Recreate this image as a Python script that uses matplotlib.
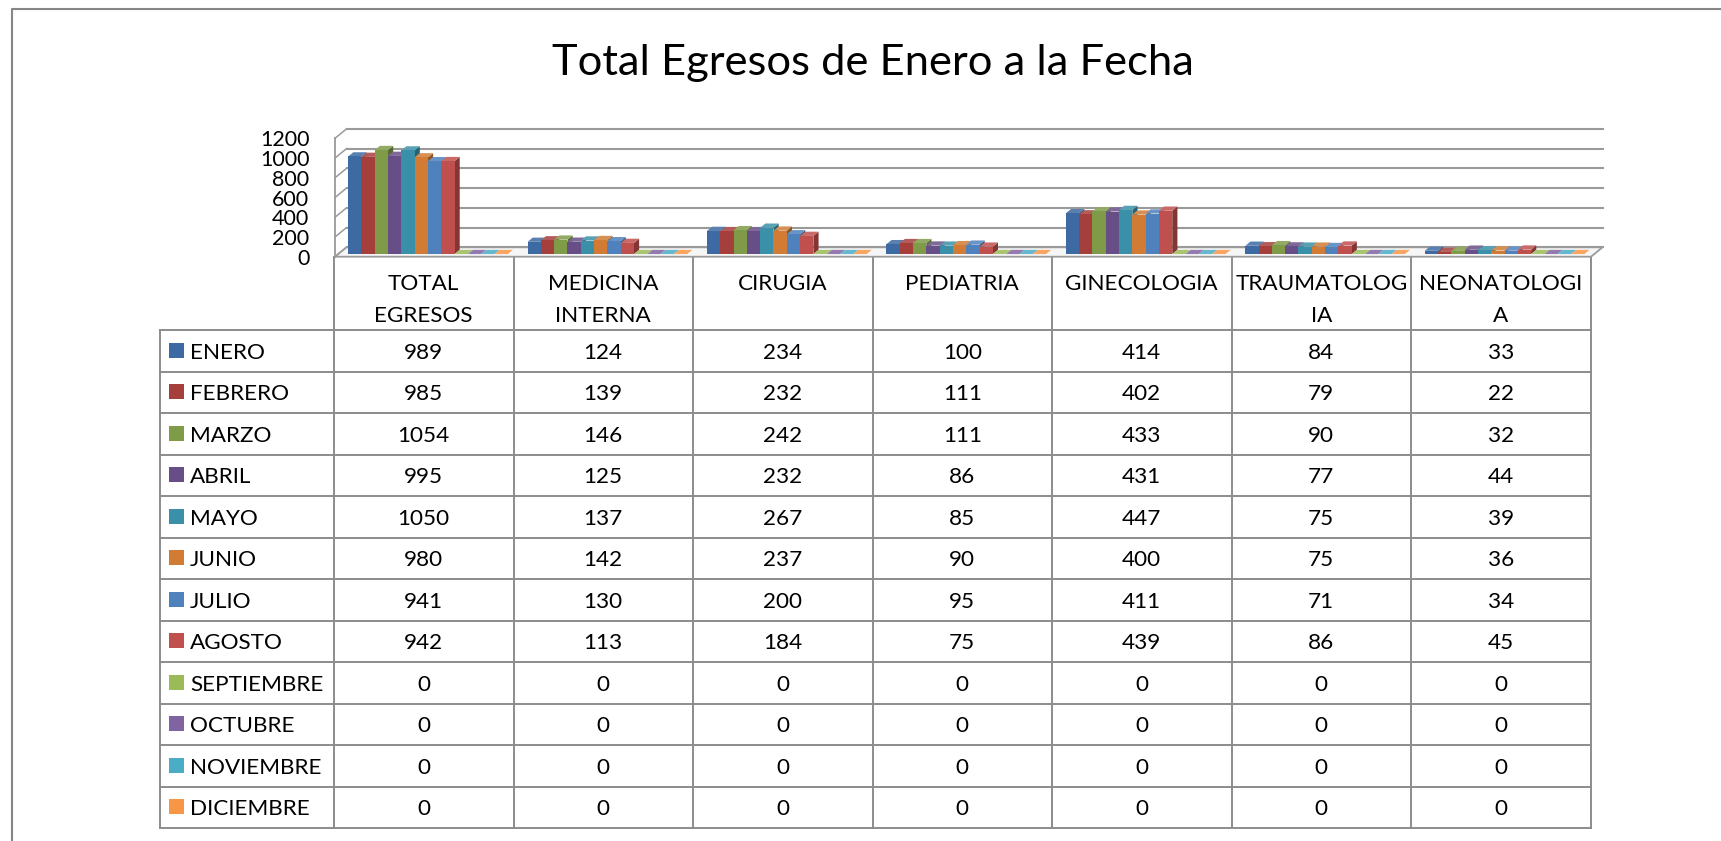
import matplotlib
matplotlib.use('Agg')
import numpy as np
import matplotlib.pyplot as plt
from matplotlib.patches import Polygon, Rectangle
from matplotlib.colors import to_rgb

plt.rcParams['font.family'] = ['Lato', 'DejaVu Sans']

TITLE = 'Total Egresos de Enero a la Fecha'
categories = ['TOTAL\nEGRESOS', 'MEDICINA\nINTERNA', 'CIRUGIA', 'PEDIATRIA',
              'GINECOLOGIA', 'TRAUMATOLOG\nIA', 'NEONATOLOGI\nA']
months = ['ENERO', 'FEBRERO', 'MARZO', 'ABRIL', 'MAYO', 'JUNIO', 'JULIO',
          'AGOSTO', 'SEPTIEMBRE', 'OCTUBRE', 'NOVIEMBRE', 'DICIEMBRE']

enero = [989, 124, 234, 100, 414, 84, 33]
febrero = [985, 139, 232, 111, 402, 79, 22]
marzo = [1054, 146, 242, 111, 433, 90, 32]
abril = [995, 125, 232, 86, 431, 77, 44]
mayo = [1050, 137, 267, 85, 447, 75, 39]
junio = [980, 142, 237, 90, 400, 75, 36]
julio = [941, 130, 200, 95, 411, 71, 34]
agosto = [942, 113, 184, 75, 439, 86, 45]
septiembre = [0, 0, 0, 0, 0, 0, 0]
octubre = [0, 0, 0, 0, 0, 0, 0]
noviembre = [0, 0, 0, 0, 0, 0, 0]
diciembre = [0, 0, 0, 0, 0, 0, 0]
series = [enero, febrero, marzo, abril, mayo, junio, julio, agosto,
          septiembre, octubre, noviembre, diciembre]

yticks = [0, 200, 400, 600, 800, 1000, 1200]

colors = ['#3D6AA2', '#A53F3C', '#7F9B47', '#674E87', '#3A90A8', '#D17B35',
          '#4F81BD', '#C0504D', '#9BBB59', '#8064A2', '#4BACC6', '#F79646']

W, H = 1721, 841
fig = plt.figure(figsize=(W / 100, H / 100), dpi=100)

# background canvas in pixel coords (frame, title, table)
ax0 = fig.add_axes([0, 0, 1, 1])
ax0.set_xlim(0, W)
ax0.set_ylim(H, 0)
ax0.axis('off')

ax0.plot([12, 12, W], [H, 8.5, 8.5], color='#868686', lw=1.5, solid_capstyle='butt')
ax0.text(873, 75, TITLE, fontsize=31.3, ha='center', va='baseline')

# 3d-ish bar chart, front plane of the floor
X0, X1 = 335, 1591
YF0, YF1 = 256.7, 138.3
ax = fig.add_axes([X0 / W, 1 - YF0 / H, (X1 - X0) / W, (YF0 - YF1) / H])
ax.patch.set_visible(False)
ax.set_xlim(-0.5, 6.5)
ax.set_ylim(0, 1200)
for s in ax.spines.values():
    s.set_visible(False)
ax.set_xticks([])
ax.set_yticks(yticks)
ax.tick_params(axis='y', length=0, pad=18.5, labelsize=15.5)

px_x = 7 / (X1 - X0)
px_y = 1200 / (YF0 - YF1)
DX, DY = 11.5 * px_x, 9.4 * px_y

grid_c = '#9a9a9a'
floor = Polygon([(-0.5, 0), (6.5, 0), (6.5 + DX, DY), (-0.5 + DX, DY)],
                closed=True, facecolor='#f6f6f6', edgecolor=grid_c, lw=1.3,
                clip_on=False, zorder=1)
ax.add_patch(floor)
for v in yticks:
    ax.plot([-0.5 + DX, 6.5 + DX], [v + DY, v + DY], color=grid_c, lw=1.5,
            clip_on=False, zorder=0)
    ax.plot([-0.5, -0.5 + DX], [v, v + DY], color=grid_c, lw=1.1,
            clip_on=False, zorder=0)
ax.plot([-0.5, -0.5], [0, 1200], color=grid_c, lw=1.3, clip_on=False, zorder=0)

n = len(series)
w = 13.3 * px_x
ox, oy = 0.28 * DX, 0.28 * DY
ddx, ddy = 0.45 * DX, 0.45 * DY
cx = np.arange(len(categories))

for j, (vals, col) in enumerate(zip(series, colors)):
    rgb = np.array(to_rgb(col))
    top_c = rgb + (1 - rgb) * 0.15
    side_c = rgb * 0.68
    xl = cx - n * w / 2 + j * w + ox
    z = 10 + 3 * j
    for x, v in zip(xl, vals):
        top = oy + v
        ax.add_patch(Polygon([(x + w, oy), (x + w + ddx, oy + ddy),
                              (x + w + ddx, top + ddy), (x + w, top)],
                             facecolor=side_c, lw=0, clip_on=False, zorder=z))
        ax.add_patch(Polygon([(x, top), (x + w, top), (x + w + ddx, top + ddy),
                              (x + ddx, top + ddy)],
                             facecolor=top_c, lw=0, clip_on=False, zorder=z + 1))
    ax.bar(xl, vals, width=w, bottom=oy, align='edge', color=col, lw=0,
           clip_on=False, zorder=z + 2)

# data table
line_c = '#8c8c8c'
TL = 160
col_x = np.linspace(334, 1590.5, len(categories) + 1)
hdr_top, hdr_bot, row_h = 256.7, 330, 41.5
tbl_bot = hdr_bot + len(months) * row_h
fs = 16.2

for k in range(len(months) + 1):
    y = hdr_bot + k * row_h
    ax0.plot([TL, col_x[-1]], [y, y], color=line_c, lw=1.4)
ax0.plot([TL, TL], [hdr_bot, tbl_bot], color=line_c, lw=1.4)
for x in col_x:
    ax0.plot([x, x], [hdr_top, tbl_bot], color=line_c, lw=1.4)

for i, lab in enumerate(categories):
    xc = (col_x[i] + col_x[i + 1]) / 2
    for k, part in enumerate(lab.split('\n')):
        ax0.text(xc, 290.5 + k * 31, part, fontsize=fs, ha='center', va='baseline')

for r, (m, vals, col) in enumerate(zip(months, series, colors)):
    yc = hdr_bot + (r + 0.5) * row_h
    ax0.add_patch(Rectangle((169, yc - 8), 15, 15, facecolor=col, lw=0))
    ax0.text(190, yc + 8.2, m, fontsize=fs, ha='left', va='baseline')
    for i, v in enumerate(vals):
        xc = (col_x[i] + col_x[i + 1]) / 2
        ax0.text(xc, yc + 8.2, str(v), fontsize=fs, ha='center', va='baseline')

fig.savefig('out.png', dpi=100)
